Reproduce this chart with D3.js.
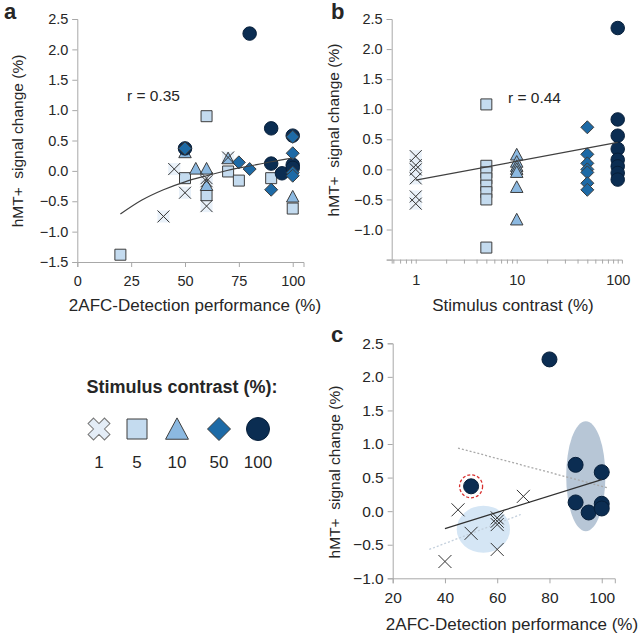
<!DOCTYPE html>
<html><head><meta charset="utf-8">
<script src="https://cdn.jsdelivr.net/npm/d3@7"></script>
<style>
html,body{margin:0;padding:0;background:#fff;}
text{font-family:"Liberation Sans",Arial,sans-serif;fill:#262626;}
</style></head>
<body><svg id="chart" width="640" height="637"></svg>
<script>
// ---------- DATA ----------
const contrastLevels = [1, 5, 10, 50, 100];
const contrastLabels = ["1", "5", "10", "50", "100"];

// Panel a: [performance %, signal change %]
const aContrast1   = [[40,-0.75],[45,0.03],[50,-0.36],[60,-0.12],[60,-0.17],[60,-0.58],[70,0.22]];
const aContrast5   = [[20,-1.38],[60,0.90],[50,-0.12],[70,-0.01],[75,-0.16],[60,-0.40],[90,-0.12],[100,-0.62]];
const aContrast10  = [[50,0.30],[55,0.03],[60,0.03],[70,0.20],[60,-0.24],[100,-0.43]];
const aContrast50  = [[50,0.37],[75,0.14],[80,0.03],[90,-0.31],[100,0.56],[100,0.29],[100,-0.03],[100,-0.08]];
const aContrast100 = [[50,0.37],[80,2.26],[90,0.70],[100,0.58],[90,0.12],[95,-0.04],[100,0.10],[100,0.05]];
const aTrendX = [20, 30, 40, 50, 60, 70, 80, 90, 100];
const aTrendY = [-0.71, -0.48, -0.31, -0.18, -0.08, 0.01, 0.08, 0.15, 0.21];

// Panel b: signal change per contrast level
const bContrast1   = [0.22, 0.07, 0.0, -0.15, -0.45, -0.57];
const bContrast5   = [1.08, 0.06, -0.05, -0.15, -0.27, -0.38, -0.50, -1.30];
const bContrast10  = [0.24, 0.12, 0.05, 0.0, -0.05, -0.30, -0.84];
const bContrast50  = [0.70, 0.25, 0.10, 0.0, -0.05, -0.23, -0.34];
const bContrast100 = [2.35, 0.83, 0.56, 0.34, 0.16, 0.05, -0.06, -0.17];
const bFit = [[1,-0.18],[100,0.45]];

// Panel c
const cContrast1   = [[40,-0.75],[45,0.02],[50,-0.33],[60,-0.10],[60,-0.15],[60,-0.20],[60,-0.57],[70,0.22]];
const cContrast100 = [[80,2.26],[90,0.69],[100,0.58],[90,0.13],[95,-0.02],[100,0.11],[100,0.04],[50,0.37]];
const cHighlight = [[50,0.37]];
const cFitSolid = [[40,-0.26],[100,0.47]];
const cFitUpper = [[45,0.94],[102,0.35]];
const cFitLower = [[34,-0.57],[69,-0.05]];
const cEllipses = [{cx:54.7, cy:-0.27, rx:10.2, ry:0.35}, {cx:93.9, cy:0.52, rx:7.5, ry:0.82}];

const aXTicks = [0,25,50,75,100];
const yTicksAB = [-1.5,-1.0,-0.5,0,0.5,1.0,1.5,2.0,2.5];
const bXTicks = [1,10,100];
const bMinorTicks = [0.6,0.7,0.8,0.9,2,3,4,5,6,7,8,9,20,30,40,50,60,70,80,90];
const cXTicks = [20,40,60,80,100];
const cYTicks = [-1.0,-0.5,0,0.5,1.0,1.5,2.0,2.5];

// ---------- STYLE ----------
const fills = {1:"#e4edf7", 5:"#c4dbef", 10:"#8cb9e1", 50:"#1d6aa6", 100:"#0b2d52"};
const strokeDark = "#3d3d3d";
const axisColor = "#a8a8a8";

const svg = d3.select("#chart");
svg.append("rect").attr("width",640).attr("height",637).attr("fill","#fff");

function markerPath(type, s){
  const h = s/2;
  if(type===5) return `M${-h},${-h}h${s}v${s}h${-s}Z`;
  if(type===10) return `M0,${-s*0.55}L${s*0.52},${s*0.42}L${-s*0.52},${s*0.42}Z`;
  if(type===50) return `M0,${-h}L${h},0L0,${h}L${-h},0Z`;
  return null;
}
function drawMarker(g, type, x, y, s){
  if(type===1){
    g.append("path").attr("d",`M${x-s/2},${y-s/2}L${x+s/2},${y+s/2}M${x+s/2},${y-s/2}L${x-s/2},${y+s/2}`)
      .attr("stroke","#333").attr("stroke-width",1).attr("fill","none");
  } else if(type===100){
    g.append("circle").attr("cx",x).attr("cy",y).attr("r",s/2)
      .attr("fill",fills[100]).attr("stroke","#071f3a").attr("stroke-width",1);
  } else {
    g.append("path").attr("d",markerPath(type,s)).attr("transform",`translate(${x},${y})`)
      .attr("fill",fills[type]).attr("stroke",strokeDark).attr("stroke-width",1);
  }
}

function styleAxis(g, fs){
  g.selectAll(".domain").attr("stroke",axisColor);
  g.selectAll(".tick line").attr("stroke",axisColor);
  g.selectAll(".tick text").attr("fill","#262626").style("font-size",fs)
    .style("font-family","'Liberation Sans',Arial,sans-serif");
}
const fmt1 = d3.format(".1f");
function yLabel(g,x,y,fs){
  g.append("text").attr("x",x).attr("y",y).attr("transform",`rotate(-90,${x},${y})`)
    .attr("text-anchor","middle").attr("dominant-baseline","middle").style("font-size",fs)
    .attr("xml:space","preserve").style("white-space","pre").text("hMT+  signal change (%)");
}

// ---------- PANEL A ----------
const ax = d3.scaleLinear().domain([0,105]).range([77.3,303.5]);
const ay = d3.scaleLinear().domain([-1.5,2.5]).range([262,19]);
{
  const g = svg.append("g");
  const yA = g.append("g").attr("transform",`translate(${ax(0)},0)`)
    .call(d3.axisLeft(ay).tickValues(yTicksAB).tickFormat(fmt1).tickSize(5).tickPadding(4));
  styleAxis(yA,"14.5px");
  const xA = g.append("g").attr("transform",`translate(0,${ay(-1.5)})`)
    .call(d3.axisBottom(ax).tickValues(aXTicks).tickSize(5).tickPadding(9));
  styleAxis(xA,"14.5px");
  const m = g.append("g");
  aContrast1.forEach(d=>m.append("rect").attr("x",ax(d[0])-6).attr("y",ay(d[1])-6).attr("width",12).attr("height",12).attr("fill",fills[1]).attr("opacity",0.8));
  aContrast5.forEach(d=>drawMarker(m,5,ax(d[0]),ay(d[1]),11));
  aContrast10.forEach(d=>drawMarker(m,10,ax(d[0]),ay(d[1]),12));
  aContrast100.forEach(d=>drawMarker(m,100,ax(d[0]),ay(d[1]),13.5));
  aContrast50.forEach(d=>drawMarker(m,50,ax(d[0]),ay(d[1]),13));
  aContrast1.forEach(d=>drawMarker(m,1,ax(d[0]),ay(d[1]),12));
  const line = d3.line().x((d,i)=>ax(aTrendX[i])).y((d,i)=>ay(aTrendY[i])).curve(d3.curveMonotoneX);
  g.append("path").attr("d",line(aTrendX)).attr("fill","none").attr("stroke","#404040").attr("stroke-width",1.2);
  g.append("text").attr("x",127).attr("y",101).style("font-size","15.5px").text("r = 0.35");
  yLabel(g,19,141,"15.5px");
  g.append("text").attr("x",195).attr("y",311).attr("text-anchor","middle").style("font-size","17px")
    .text("2AFC-Detection performance (%)");
  g.append("text").attr("x",4).attr("y",19).style("font-size","22px").style("font-weight","bold").text("a");
}

// ---------- PANEL B ----------
const bx = d3.scaleLog().domain([0.578,110]).range([391.7,621.9]);
const by = d3.scaleLinear().domain([-1.5,2.5]).range([259.6,19]);
{
  const g = svg.append("g");
  const yA = g.append("g").attr("transform",`translate(${bx.range()[0]},0)`)
    .call(d3.axisLeft(by).tickValues(yTicksAB).tickFormat(d=>d===-1.5?"":fmt1(d)).tickSize(5).tickPadding(4));
  styleAxis(yA,"14.5px");
  const xA = g.append("g").attr("transform",`translate(0,${by(-1.5)})`)
    .call(d3.axisBottom(bx).tickValues(bXTicks.concat(bMinorTicks)).tickFormat(d=>bXTicks.includes(d)?String(d):"").tickSize(4).tickPadding(11));
  styleAxis(xA,"14.5px");
  const m = g.append("g");
  const sizes = {1:12,5:11,10:12,50:13,100:13.5};
  bContrast1.forEach(v=>m.append("rect").attr("x",bx(1)-6).attr("y",by(v)-6).attr("width",12).attr("height",12).attr("fill",fills[1]).attr("opacity",0.8));
  [[5,bContrast5],[10,bContrast10],[100,bContrast100],[50,bContrast50],[1,bContrast1]].forEach(([c,vals])=>{
    vals.forEach(v=>drawMarker(m,c,bx(c),by(v),sizes[c]));
  });
  const line = d3.line().x(d=>bx(d[0])).y(d=>by(d[1]));
  g.append("path").attr("d",line(bFit)).attr("fill","none").attr("stroke","#404040").attr("stroke-width",1.2);
  g.append("text").attr("x",508).attr("y",103).style("font-size","15.5px").text("r = 0.44");
  yLabel(g,335,130,"15.5px");
  g.append("text").attr("x",513).attr("y",311).attr("text-anchor","middle").style("font-size","17px")
    .text("Stimulus contrast (%)");
  g.append("text").attr("x",331).attr("y",19).style("font-size","22px").style("font-weight","bold").text("b");
}

// ---------- PANEL C ----------
const cx = d3.scaleLinear().domain([20,105]).range([392.7,614.8]);
const cy = d3.scaleLinear().domain([-1,2.5]).range([578.3,343.3]);
{
  const g = svg.append("g");
  const ell = g.append("g");
  const ellColors = ["#d5e6f5","#b7c6d6"];
  cEllipses.forEach((e,i)=>{
    ell.append("ellipse").attr("cx",cx(e.cx)).attr("cy",cy(e.cy))
      .attr("rx",cx(e.cx+e.rx)-cx(e.cx)).attr("ry",cy(e.cy-e.ry)-cy(e.cy))
      .attr("fill",ellColors[i]);
  });
  const yA = g.append("g").attr("transform",`translate(${cx(20)},0)`)
    .call(d3.axisLeft(cy).tickValues(cYTicks).tickFormat(fmt1).tickSize(5).tickPadding(4));
  styleAxis(yA,"15.5px");
  const xA = g.append("g").attr("transform",`translate(0,${cy(-1)})`)
    .call(d3.axisBottom(cx).tickValues(cXTicks).tickSize(5).tickPadding(9));
  styleAxis(xA,"15.5px");
  const line = d3.line().x(d=>cx(d[0])).y(d=>cy(d[1]));
  g.append("path").attr("d",line(cFitUpper)).attr("fill","none").attr("stroke","#a9a9a9").attr("stroke-width",1.3).attr("stroke-dasharray","2,2");
  g.append("path").attr("d",line(cFitLower)).attr("fill","none").attr("stroke","#c3cfdc").attr("stroke-width",1.3).attr("stroke-dasharray","2,2");
  const m = g.append("g");
  cContrast100.forEach(d=>drawMarker(m,100,cx(d[0]),cy(d[1]),15));
  cContrast1.forEach(d=>drawMarker(m,1,cx(d[0]),cy(d[1]),13));
  cHighlight.forEach(d=>m.append("circle").attr("cx",cx(d[0])).attr("cy",cy(d[1])).attr("r",11.5)
    .attr("fill","none").attr("stroke","#d8302f").attr("stroke-width",1.3).attr("stroke-dasharray","3,2"));
  g.append("path").attr("d",line(cFitSolid)).attr("fill","none").attr("stroke","#303030").attr("stroke-width",1.2);
  yLabel(g,336,472,"15.5px");
  g.append("text").attr("x",512).attr("y",630).attr("text-anchor","middle").style("font-size","17px")
    .text("2AFC-Detection performance (%)");
  g.append("text").attr("x",331).attr("y",342).style("font-size","22px").style("font-weight","bold").text("c");
}

// ---------- LEGEND ----------
{
  const g = svg.append("g");
  g.append("text").attr("x",182).attr("y",393).attr("text-anchor","middle")
    .style("font-size","18px").style("font-weight","bold").text("Stimulus contrast (%):");
  const lpos = d3.scaleOrdinal().domain(contrastLevels).range([99,137,177,219,258]);
  contrastLevels.forEach((c,i)=>{
    const x = lpos(c), y = 429;
    if(c===1){
      g.append("path").attr("d",d3.symbol(d3.symbolCross,300)()).attr("transform",`translate(${x},${y}) rotate(45)`)
        .attr("fill",fills[1]).attr("stroke","#777").attr("stroke-width",1);
    } else if(c===100){
      g.append("circle").attr("cx",x).attr("cy",y).attr("r",11.5).attr("fill",fills[100]).attr("stroke","#071f3a");
    } else {
      const s = c===5?20:(c===10?22:23);
      g.append("path").attr("d",markerPath(c,s)).attr("transform",`translate(${x},${y+(c===10?1:0)})`)
        .attr("fill",fills[c]).attr("stroke",strokeDark).attr("stroke-width",1);
    }
    g.append("text").attr("x",x).attr("y",468).attr("text-anchor","middle").style("font-size","17px").text(contrastLabels[i]);
  });
}
</script></body></html>
